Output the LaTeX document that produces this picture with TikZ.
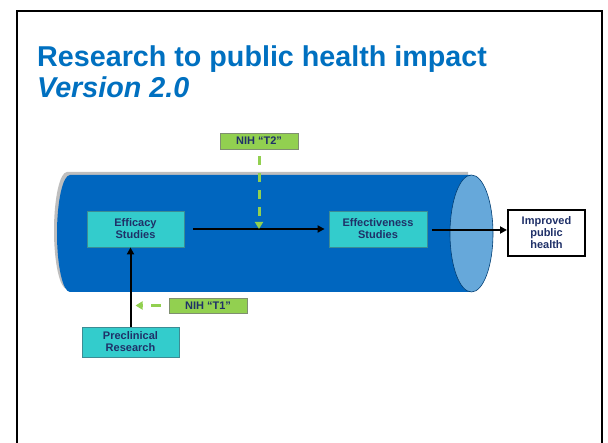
\documentclass[tikz,border=0pt]{standalone}
\usepackage{fontspec}
\setmainfont{Liberation Sans}
\usetikzlibrary{arrows.meta,calc}
\definecolor{titleblue}{HTML}{0070C0}
\definecolor{pipeblue}{HTML}{0066BF}
\definecolor{pipeend}{HTML}{66A8DA}
\definecolor{pipeshadow}{HTML}{BEBEBE}
\definecolor{tealfill}{HTML}{33CCCC}
\definecolor{tealline}{HTML}{3C8C94}
\definecolor{greenfill}{HTML}{92D050}
\definecolor{greenline}{HTML}{7F8F70}
\definecolor{dashgreen}{HTML}{92D050}
\definecolor{navytext}{HTML}{1F3068}
\tikzset{
  boxtext/.style={font=\fontsize{11}{12}\selectfont\bfseries, text=navytext, align=center, inner sep=0pt},
  tealbox/.style={boxtext, fill=tealfill, draw=tealline, line width=0.8pt},
  greenbox/.style={boxtext, fill=greenfill, draw=greenline, line width=0.8pt},
  outbox/.style={boxtext, fill=white, draw=black, line width=2pt},
  arr/.style={draw=black, line width=2pt, -{Triangle[length=7pt,width=7pt]}},
  gdash/.style={draw=dashgreen, line width=3pt, dash pattern=on 9pt off 8pt, -{Triangle[length=7pt,width=8pt]}},
  titletext/.style={font=\fontsize{28.7}{31}\selectfont\bfseries, text=titleblue, inner sep=0pt, anchor=base west}
}
\begin{document}
\begin{tikzpicture}[x=1pt,y=-1pt]
\useasboundingbox (0,0) rectangle (608,443);
\clip (0,0) rectangle (608,443);
% frame
\draw[line width=2pt] (16.5,450) -- (16.5,11.5) -- (602,11.5) -- (602,450);
% title
\node[titletext] (title1) at (37,67) {Research to public health impact};
\node[titletext, font=\fontsize{28.7}{31}\selectfont\bfseries\itshape] (title2) at (37,98) {Version 2.0};
% pipe shadow
\fill[pipeshadow] (468,172) -- (67,172) arc[start angle=270, end angle=90, x radius=13, y radius=58.5] -- (468,289) -- cycle;
% pipe body
\fill[pipeblue] (471,175) -- (70,175) arc[start angle=270, end angle=90, x radius=13, y radius=58.5] -- (471,292) -- cycle;
% pipe end
\draw[fill=pipeend, draw=pipeblue!60!black, line width=0.6pt] (471.5,233.5) ellipse[x radius=21.5, y radius=58.5];
% nodes
\node[tealbox, minimum width=97pt, minimum height=36pt] (efficacy) at (135.5,229) {Efficacy\\Studies};
\node[tealbox, minimum width=98pt, minimum height=36pt] (effect) at (378,229) {Effectiveness\\Studies};
\node[outbox, minimum width=77pt, minimum height=46pt] (improved) at (546.5,233) {Improved\\public\\health};
\node[greenbox, minimum width=78pt, minimum height=16pt] (t2) at (259,141) {NIH “T2”};
\node[greenbox, minimum width=78pt, minimum height=15pt] (t1) at (208,305.5) {NIH “T1”};
\node[tealbox, minimum width=97pt, minimum height=30pt] (pre) at (130.5,342) {Preclinical\\Research};
% connectors
\draw[arr] ([xshift=9pt]efficacy.east) -- ([xshift=-4pt]effect.west);
\draw[arr] ([xshift=5pt,yshift=-1pt]effect.east) -- ([yshift=3pt]improved.west);
\draw[arr] (pre.north) -- (efficacy.south -| pre.north);
\coordinate (t2end) at (t2.south |- efficacy.center);
\draw[gdash] ([yshift=-7pt]t2.south) -- (t2end);
\coordinate (t1end) at ($(pre.north |- t1.west)+(5,0)$);
\draw[gdash, dash pattern=on 10pt off 8pt, dash phase=-4pt] ([xshift=-4pt]t1.west) -- (t1end);
\end{tikzpicture}
\end{document}
